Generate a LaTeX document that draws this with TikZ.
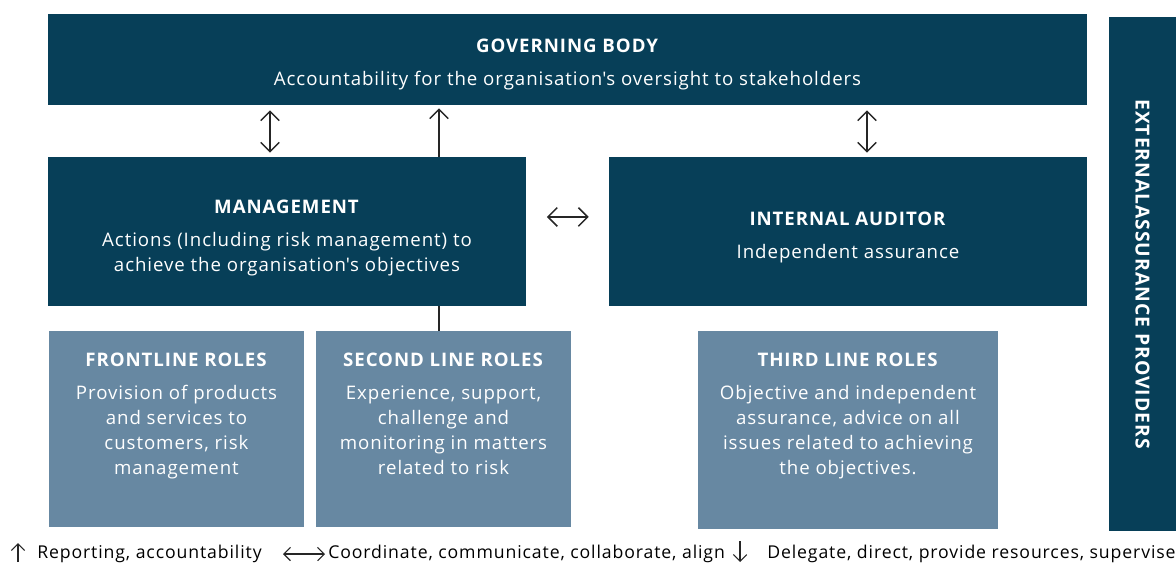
\documentclass[tikz,border=0pt]{standalone}
\usepackage{fontspec}
\setmainfont[LetterSpace=5]{Open Sans}
\usetikzlibrary{arrows.meta,positioning}
\definecolor{govblue}{HTML}{073F58}
\definecolor{roleblue}{HTML}{6788A2}

\begin{document}
\begin{tikzpicture}
[
	x=0.75pt,
	y=-0.75pt,
	darkbox/.style={rectangle,fill=govblue,inner sep=0pt},
	rolebox/.style={rectangle,fill=roleblue,inner sep=0pt},
	boxtext/.style={text=white,align=center,inner sep=0pt,font=\fontsize{14}{18.75}\selectfont},
	legendtext/.style={anchor=west,inner sep=0pt,font=\fontsize{13.25}{15}\selectfont},
	barb/.tip={Straight Barb[length=7pt,width=14pt]},
	smallbarb/.tip={Straight Barb[length=5pt,width=10pt]},
	link/.style={draw=black!85,line width=1.1pt},
	legendlink/.style={draw=black!85,line width=0.8pt}
]

	\useasboundingbox (0,0) rectangle (1176,563);

	% dark boxes
	\node[darkbox,minimum width=779.25pt,minimum height=68.25pt] (gov) at (567.5,59.5) {};
	\node[darkbox,minimum width=358.5pt,minimum height=111.75pt] (mgmt) at (287,231.5) {};
	\node[darkbox,minimum width=358.5pt,minimum height=111.75pt] (audit) at (848,231.5) {};
	\node[darkbox,minimum width=50.25pt,minimum height=385.5pt] (ext) at (1142.5,274) {};

	\node[boxtext] (govtxt) at ([yshift=-3.75pt]gov.center)
		{\textbf{GOVERNING BODY}\\[6pt]Accountability for the organisation\textquotesingle s oversight to stakeholders};
	\node[boxtext] (mgmttxt) at ([yshift=-5pt]mgmt.center)
		{\textbf{MANAGEMENT}\\[6pt]Actions (Including risk management) to\\achieve the organisation\textquotesingle s objectives};
	\node[boxtext] (audittxt) at ([yshift=-4.5pt]audit.center)
		{\textbf{INTERNAL AUDITOR}\\[6pt]Independent assurance};
	\node[boxtext,rotate=-90,font=\fontsize{14.5}{15}\selectfont\bfseries] (exttxt) at (ext.center)
		{EXTERNALASSURANCE PROVIDERS};

	% role boxes
	\node[rolebox,minimum width=191.25pt,minimum height=147pt] (front) at (176.5,429) {};
	\node[rolebox,minimum width=191.25pt,minimum height=147pt] (second) at (443.5,429) {};
	\node[rolebox,minimum width=225pt,minimum height=148.5pt] (third) at (848,430) {};

	\node[boxtext,below=16.5pt of front.north] (fronttxt)
		{\textbf{FRONTLINE ROLES}\\[6pt]Provision of products\\and services to\\customers, risk\\management};
	\node[boxtext,below=16.5pt of second.north] (secondtxt)
		{\textbf{SECOND LINE ROLES}\\[6pt]Experience, support,\\challenge and\\monitoring in matters\\related to risk};
	\node[boxtext,below=16.5pt of third.north] (thirdtxt)
		{\textbf{THIRD LINE ROLES}\\[6pt]Objective and independent\\assurance, advice on all\\issues related to achieving\\the objectives.};

	% connectors
	\coordinate (mgmtleft) at ([xshift=-12.75pt]mgmt.north);
	\coordinate (mgmtup) at ([xshift=114pt]mgmt.north);
	\coordinate (mgmtdown) at ([xshift=114pt]mgmt.south);
	\coordinate (auditup) at ([xshift=14.25pt]audit.north);
	\draw[link,barb-barb,shorten <=3pt,shorten >=3.75pt] (mgmtleft) -- (mgmtleft |- gov.south);
	\draw[link,-barb,shorten >=2.25pt] (mgmtup) -- (mgmtup |- gov.south);
	\draw[link,barb-barb,shorten <=3pt,shorten >=3.75pt] (auditup) -- (auditup |- gov.south);
	\draw[link,barb-barb,shorten <=15.5pt,shorten >=15pt] ([yshift=10.9pt]mgmt.east) -- ([yshift=10.9pt]mgmt.east -| audit.west);
	\draw[link] (mgmtdown) -- (mgmtdown |- second.north);

	% legend
	\coordinate (upfoot) at (18,562);
	\coordinate (uphead) at (18,543);
	\draw[legendlink,-smallbarb] (upfoot) -- (uphead);
	\node[legendtext] (reptxt) at (37,554) {Reporting, accountability};
	\coordinate (coordleft) at (283,554);
	\coordinate (coordright) at (325,554);
	\draw[legendlink,smallbarb-smallbarb] (coordleft) -- (coordright);
	\node[legendtext] (coordtxt) at (328,554) {Coordinate, communicate, collaborate, align};
	\coordinate (downtop) at (740,541);
	\coordinate (downfoot) at (740,562);
	\draw[legendlink,-smallbarb] (downtop) -- (downfoot);
	\node[legendtext] (deltxt) at (767,554) {Delegate, direct, provide resources, supervise};

\end{tikzpicture}
\end{document}
